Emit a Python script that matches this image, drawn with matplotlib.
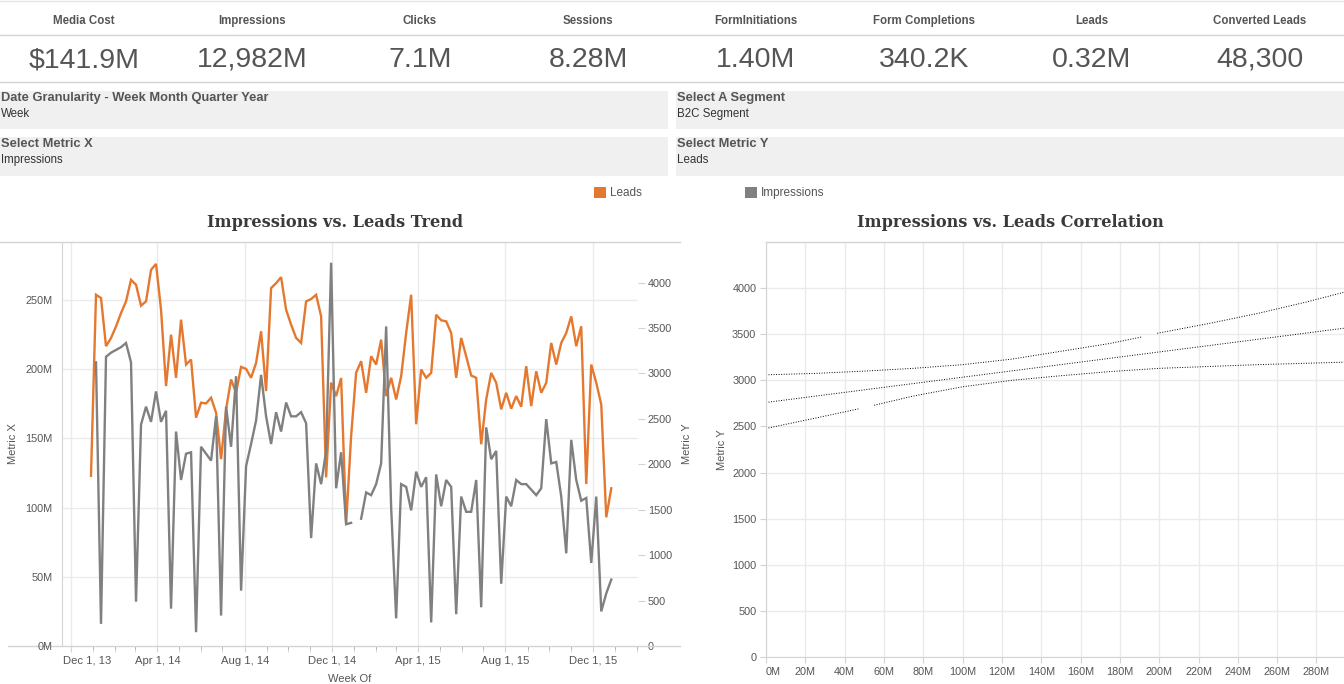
import numpy as np
import pandas as pd
import matplotlib
matplotlib.use('Agg')
import matplotlib.pyplot as plt
import matplotlib.dates as mdates
import matplotlib.transforms as mtransforms
from matplotlib.patches import Rectangle
from matplotlib.lines import Line2D
from datetime import datetime

# ---------------- data ----------------
kpi_labels = ["Media Cost", "Impressions", "Clicks", "Sessions",
              "FormInitiations", "Form Completions", "Leads", "Converted Leads"]
kpi_values = ["$141.9M", "12,982M", "7.1M", "8.28M", "1.40M", "340.2K", "0.32M", "48,300"]

filter_titles = ["Date Granularity - Week Month Quarter Year", "Select A Segment",
                 "Select Metric X", "Select Metric Y"]
filter_values = ["Week", "B2C Segment", "Impressions", "Leads"]

legend_labels = ["Leads", "Impressions"]

week_start = "2013-12-29"
n_weeks = 105

leads = [1874, 3866, 3830, 3300, 3390, 3518, 3665, 3793, 4031, 3976,
         3746, 3793, 4140, 4206, 3702, 2861, 3427, 2952, 3592, 3098,
         3153, 2513, 2678, 2670, 2733, 2568, 2057, 2605, 2934, 2788,
         3072, 3050, 2952, 3116, 3464, 2806, 3939, 3994, 4060, 3702,
         3537, 3391, 3336, 3793, 3819, 3866, 3629, 1856, 2900, 2750,
         2950, 1343, 2312, 3008, 3135, 2787, 3189, 3098, 3372, 2751,
         2952, 2714, 2970, 3445, 3866, 2441, 3043, 2952, 3006, 3646,
         3585, 3574, 3445, 2952, 3391, 3189, 2977, 2952, 2221, 2714,
         3006, 2897, 2605, 2787, 2612, 2751, 2634, 3080, 2641, 3024,
         2787, 2897, 3336, 3098, 3336, 3445, 3628, 3300, 3519, 1783,
         3098, 2897, 2659, 1417, 1736]

impressions_m = [np.nan, 205, 16, 209, 212, 214, 216, 219, 205, 32,
                 160, 173, 162, 184, 162, 170, 27, 155, 120, 139,
                 140, 10, 144, 139, 134, 166, 22, 173, 144, 195,
                 40, 130, 146, 163, 196, 166, 146, 169, 155, 176,
                 166, 166, 169, 161, 78, 132, 117, 141, 277, 114,
                 140, 88, 89, np.nan, 92, 111, 109, 117, 132, 231,
                 100, 20, 117, 115, 98, 126, 115, 122, 17, 124,
                 101, 120, 115, 23, 108, 97, 97, 120, 28, 158,
                 135, 141, 45, 108, 101, 120, 117, 117, 113, 109,
                 114, 164, 132, 133, 108, 67, 149, 120, 105, 107,
                 60, 108, 25, 38, 48]

date_major = ["2013-12-01", "2014-04-01", "2014-08-01", "2014-12-01",
              "2015-04-01", "2015-08-01", "2015-12-01"]
date_major_labels = ["Dec 1, 13", "Apr 1, 14", "Aug 1, 14", "Dec 1, 14",
                     "Apr 1, 15", "Aug 1, 15", "Dec 1, 15"]

# trend line with confidence band (x in millions of impressions)
trend_x = [0, 294]
trend_y = [2760, 3565]
band_upper_x = [0, 25, 50, 75, 100, 125, 150, 175, 191, np.nan, 199, 225, 250, 275, 294]
band_upper_y = [3060, 3075, 3100, 3130, 3170, 3230, 3315, 3400, 3470, np.nan, 3510, 3615, 3725, 3850, 3955]
band_lower_x = [0, 25, 47, np.nan, 55, 75, 100, 125, 150, 175, 200, 225, 250, 275, 294]
band_lower_y = [2478, 2590, 2690, np.nan, 2730, 2830, 2930, 3000, 3050, 3095, 3130, 3150, 3170, 3185, 3197]

# ---------------- style ----------------
W, H = 1344, 684
ORANGE = "#e5782f"
GRAY = "#808080"
TXT = "#555555"
GRID = "#ebebeb"
AXLINE = "#d4d4d4"
TICK_FS = 7.8
SANS = ["Liberation Sans", "DejaVu Sans"]
plt.rcParams['font.family'] = SANS

fig = plt.figure(figsize=(W / 100, H / 100), dpi=100)


def fx(px):
    return px / W


def fy(py):
    return 1 - py / H


def hline(y, x0, x1, color=AXLINE, lw=1.0):
    fig.add_artist(Line2D([fx(x0), fx(x1)], [fy(y), fy(y)], color=color, lw=lw,
                          transform=fig.transFigure))


# ---------------- KPI header ----------------
hline(1, 0, W, color="#e6e6e6")
hline(35, 0, W)
hline(82, 0, W)
for i, (lab, val) in enumerate(zip(kpi_labels, kpi_values)):
    cx = 84 + 168 * i
    fig.text(fx(cx), fy(21), lab, ha='center', va='center', fontsize=8.3,
             fontweight='bold', color=TXT)
    fig.text(fx(cx), fy(60), val, ha='center', va='center', fontsize=20.5,
             color=TXT)

# ---------------- filter boxes ----------------
boxes = [(0, 91, 668, 38), (676, 91, 668, 38), (0, 137, 668, 39), (676, 137, 668, 39)]
for (x0, y0, w, h), t, v in zip(boxes, filter_titles, filter_values):
    fig.add_artist(Rectangle((fx(x0), fy(y0 + h)), w / W, h / H, transform=fig.transFigure,
                             facecolor="#f0f0f0", edgecolor='none'))
    fig.text(fx(x0 + 1), fy(y0 + 7), t, ha='left', va='center', fontsize=9.3,
             fontweight='bold', color=TXT)
    fig.text(fx(x0 + 1), fy(y0 + 23), v, ha='left', va='center', fontsize=8.3,
             color="#333333")

# ---------------- legend ----------------
for (sx, col), lab in zip([(594, ORANGE), (745, GRAY)], legend_labels):
    fig.add_artist(Rectangle((fx(sx), fy(198)), 12 / W, 11 / H, transform=fig.transFigure,
                             facecolor=col, edgecolor='none'))
    fig.text(fx(sx + 16), fy(193), lab, ha='left', va='center', fontsize=8.5, color=TXT)

# ---------------- titles ----------------
fig.text(fx(335), fy(223), "Impressions vs. Leads Trend", ha='center', va='center',
         fontsize=11.6, fontweight='bold', family='DejaVu Serif', color="#3a3a3a")
fig.text(fx(1010), fy(223), "Impressions vs. Leads Correlation", ha='center', va='center',
         fontsize=11.6, fontweight='bold', family='DejaVu Serif', color="#3a3a3a")

# ---------------- left chart: trend ----------------
dates = pd.date_range(week_start, periods=n_weeks, freq='7D')
imp = np.array(impressions_m) * 1e6
xlim = (datetime(2013, 11, 18, 10), datetime(2016, 2, 2, 10))
ylim_imp = (0, 292e6)
ylim_lead = (0, 4447)
rect_l = [fx(62), fy(646), 576 / W, 404 / H]
major_dates = pd.to_datetime(date_major)

bg = fig.add_axes(rect_l, zorder=0)
axL = fig.add_axes(rect_l, zorder=1, sharex=bg)
axI = fig.add_axes(rect_l, zorder=2, sharex=bg)

bg.set_ylim(*ylim_imp)
bg.set_xlim(*xlim)
bg.set_yticks(np.arange(50e6, 260e6, 50e6))
bg.set_xticks(major_dates)
bg.grid(True, color=GRID, lw=1.0)
bg.tick_params(left=False, bottom=False, labelleft=False, labelbottom=False)
for s in bg.spines.values():
    s.set_visible(False)

axL.patch.set_visible(False)
axL.plot(dates, leads, color=ORANGE, lw=1.7, solid_joinstyle='miter')
axL.set_ylim(*ylim_lead)
axL.yaxis.tick_right()
axL.set_yticks(np.arange(0, 4001, 500))
axL.set_yticklabels([f"{v:d}" for v in range(0, 4001, 500)])
axL.tick_params(axis='y', right=True, left=False, length=5, color=AXLINE, pad=2,
                labelsize=TICK_FS, labelcolor=TXT)
axL.tick_params(axis='x', bottom=False, labelbottom=False)
for s in axL.spines.values():
    s.set_visible(False)
axL.yaxis.set_label_position('right')
axL.set_ylabel("Metric Y", fontsize=8, color=TXT, rotation=90)
axL.yaxis.set_label_coords((682 - 62) / 576, 0.5)

axI.patch.set_visible(False)
axI.plot(dates, imp, color=GRAY, lw=1.7, solid_joinstyle='miter')
axI.set_ylim(*ylim_imp)
axI.set_yticks(np.arange(0, 251e6, 50e6))
axI.set_yticklabels([f"{int(v / 1e6)}M" for v in np.arange(0, 251e6, 50e6)])
axI.tick_params(axis='y', left=True, length=0, pad=7, labelsize=TICK_FS, labelcolor=TXT)
axI.set_xticks(major_dates)
axI.set_xticklabels(date_major_labels)
axI.xaxis.set_minor_locator(mdates.MonthLocator())
axI.tick_params(axis='x', which='both', length=4, color=AXLINE, direction='out',
                labelsize=8.1, labelcolor=TXT, pad=3)
axI.set_xlim(*xlim)
for s in ['top', 'right', 'bottom']:
    axI.spines[s].set_visible(False)
axI.spines['left'].set_color(AXLINE)
axI.set_ylabel("Metric X", fontsize=8, color=TXT)
axI.yaxis.set_label_coords((18 - 62) / 576, 0.5)
axI.set_xlabel("Week Of", fontsize=8, color=TXT)
axI.xaxis.set_label_coords((350 - 62) / 576, (646 - 674) / 404)
first = axI.get_xticklabels()[0]
first.set_horizontalalignment('left')
first.set_transform(first.get_transform() +
                    mtransforms.ScaledTranslation(-8 / 100, 0, fig.dpi_scale_trans))

hline(242, 0, 680)
hline(646, 8, 680)

# ---------------- right chart: correlation ----------------
axR = fig.add_axes([fx(766), fy(657), 578 / W, 415 / H])
axR.set_xlim(0, 294)
axR.set_ylim(0, 4500)
xt = np.arange(0, 281, 20)
axR.set_xticks(xt)
axR.set_xticklabels([f"{v}M" for v in xt])
axR.set_yticks(np.arange(0, 4001, 500))
axR.set_yticklabels([f"{v}" for v in range(0, 4001, 500)])
axR.grid(True, color=GRID, lw=1.0)
axR.set_axisbelow(True)
axR.tick_params(axis='both', length=4, color=AXLINE, labelsize=TICK_FS, labelcolor=TXT, pad=3)
for s in ['top', 'right']:
    axR.spines[s].set_visible(False)
axR.spines['left'].set_color(AXLINE)
axR.spines['bottom'].set_color(AXLINE)
axR.set_ylabel("Metric Y", fontsize=8, color=TXT)
axR.yaxis.set_label_coords((727 - 766) / 578, 0.5)
axR.get_xticklabels()[0].set_horizontalalignment('left')

dot = (0, (1, 1.6))
axR.plot(trend_x, trend_y, color='black', lw=0.7, linestyle=dot)
axR.plot(band_upper_x, band_upper_y, color='black', lw=0.7, linestyle=dot)
axR.plot(band_lower_x, band_lower_y, color='black', lw=0.7, linestyle=dot)
hline(242, 766, W)

fig.savefig("out.png", dpi=100)
